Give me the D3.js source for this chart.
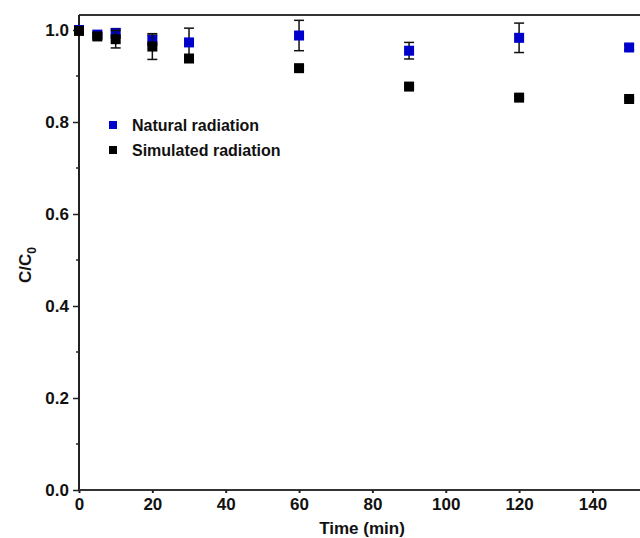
<!DOCTYPE html>
<html><head><meta charset="utf-8">
<script src="https://cdn.jsdelivr.net/npm/d3@7"></script>
<style>body{margin:0;background:#fff}svg{display:block}</style>
</head><body>
<script>
const times = [0, 5, 10, 20, 30, 60, 90, 120, 150];
const naturalValues = [1.0, 0.99, 0.993, 0.978, 0.973, 0.988, 0.955, 0.983, 0.962];
const naturalErrors = [0.003, 0.004, 0.010, 0.011, 0.031, 0.033, 0.018, 0.032, 0.005];
const simulatedValues = [0.998, 0.986, 0.980, 0.964, 0.938, 0.917, 0.877, 0.853, 0.850];
const simulatedErrors = [0.003, 0.004, 0.019, 0.028, 0.003, 0.004, 0.003, 0.003, 0.003];
const xTicks = [0, 20, 40, 60, 80, 100, 120, 140];
const yTicks = [0.0, 0.2, 0.4, 0.6, 0.8, 1.0];
const seriesNames = ["Natural radiation", "Simulated radiation"];
const seriesColors = ["#0000cc", "#000000"];

const W = 640, H = 538;
const svg = d3.select("body").append("svg").attr("width", W).attr("height", H);
const x = d3.scaleLinear().domain([0, 154.6]).range([79, 646]);
const y = d3.scaleLinear().domain([0, 1.0326]).range([490, 15]);
const font = "Liberation Sans, Arial, sans-serif";

svg.append("line").attr("x1", 79).attr("x2", W).attr("y1", 15).attr("y2", 15)
  .attr("stroke", "#333").attr("stroke-width", 2);

const yAxis = d3.axisLeft(y).tickValues(yTicks).tickFormat(d3.format(".1f")).tickSize(6).tickPadding(4);
const gy = svg.append("g").attr("transform", "translate(79,0)").call(yAxis);
gy.select(".domain").attr("stroke", "#222").attr("stroke-width", 2).attr("d", "M0,490V15");
gy.selectAll(".tick line").attr("stroke", "#222").attr("stroke-width", 1.5);
gy.selectAll(".tick text").attr("font-family", font).attr("font-weight", "bold").attr("font-size", 17).attr("fill", "#111");
svg.append("g").selectAll("line").data([0.1, 0.3, 0.5, 0.7, 0.9]).join("line")
  .attr("x1", 79).attr("x2", 76).attr("y1", d => y(d)).attr("y2", d => y(d))
  .attr("stroke", "#222").attr("stroke-width", 1.5);

const xAxis = d3.axisBottom(x).tickValues(xTicks).tickSize(3).tickPadding(5);
const gx = svg.append("g").attr("transform", "translate(0,490)").call(xAxis);
gx.select(".domain").attr("stroke", "#333").attr("stroke-width", 2).attr("d", "M79,0H640");
gx.selectAll(".tick line").attr("stroke", "#222").attr("stroke-width", 2);
gx.selectAll(".tick text").attr("font-family", font).attr("font-weight", "bold").attr("font-size", 17).attr("fill", "#111");

svg.append("text").attr("x", 362).attr("y", 534).attr("text-anchor", "middle")
  .attr("font-family", font).attr("font-weight", "bold").attr("font-size", 17).attr("fill", "#111")
  .text("Time (min)");
const yt = svg.append("text").attr("transform", "translate(31,265) rotate(-90)").attr("text-anchor", "middle")
  .attr("font-family", font).attr("font-weight", "bold").attr("font-size", 17).attr("fill", "#111");
yt.append("tspan").text("C/C");
yt.append("tspan").attr("font-size", 12).attr("dy", 5).text("0");

const series = [
  {vals: naturalValues, errs: naturalErrors, color: seriesColors[0]},
  {vals: simulatedValues, errs: simulatedErrors, color: seriesColors[1]}
];
series.forEach(s => {
  const data = times.map((t, i) => ({t, v: s.vals[i], e: s.errs[i]}));
  const g = svg.append("g");
  const eb = g.selectAll("g.eb").data(data).join("g");
  eb.append("line").attr("x1", d => x(d.t)).attr("x2", d => x(d.t))
    .attr("y1", d => y(d.v + d.e)).attr("y2", d => y(d.v - d.e)).attr("stroke", "#111").attr("stroke-width", 1.5);
  eb.append("line").attr("x1", d => x(d.t) - 5).attr("x2", d => x(d.t) + 5)
    .attr("y1", d => y(d.v + d.e)).attr("y2", d => y(d.v + d.e)).attr("stroke", "#111").attr("stroke-width", 1.5);
  eb.append("line").attr("x1", d => x(d.t) - 5).attr("x2", d => x(d.t) + 5)
    .attr("y1", d => y(d.v - d.e)).attr("y2", d => y(d.v - d.e)).attr("stroke", "#111").attr("stroke-width", 1.5);
  g.selectAll("rect").data(data).join("rect")
    .attr("x", d => x(d.t) - 5).attr("y", d => y(d.v) - 5).attr("width", 10).attr("height", 10)
    .attr("fill", s.color);
});

const leg = svg.append("g");
seriesNames.forEach((n, i) => {
  leg.append("rect").attr("x", 109).attr("y", 125 + i * 25 - 4).attr("width", 8).attr("height", 8).attr("fill", seriesColors[i]);
  leg.append("text").attr("x", 132).attr("y", 131 + i * 25)
    .attr("font-family", font).attr("font-weight", "bold").attr("font-size", 16).attr("fill", "#111").text(n);
});
</script>
</body></html>
